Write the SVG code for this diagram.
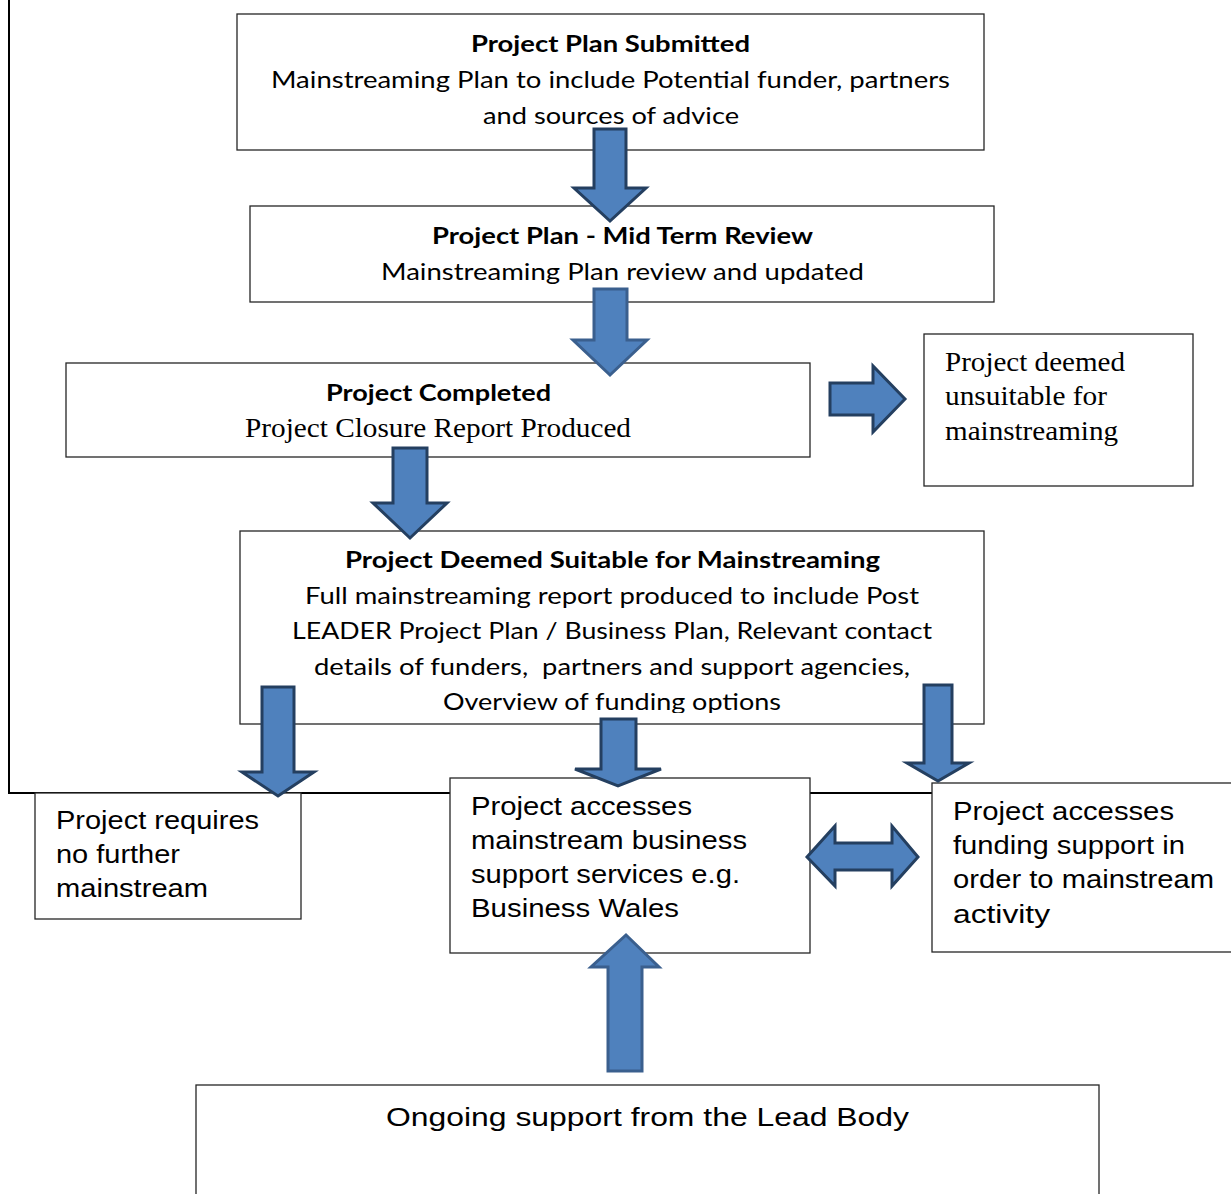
<svg xmlns="http://www.w3.org/2000/svg" width="1231" height="1194" viewBox="0 0 1231 1194">
<style>
.box{fill:#fff;stroke:#262626;stroke-width:1.3}
.frame{fill:none;stroke:#000;stroke-width:2}
.cal{font-family:Lato,"Open Sans","Liberation Sans",sans-serif;font-size:23px;fill:#000}
.b{font-weight:bold}
.tim{font-family:"Liberation Serif","Times New Roman",serif;font-size:27px;fill:#000}
.ari{font-family:"Liberation Sans",Arial,sans-serif;font-size:25px;fill:#000}
.arr{fill:#4F81BD;stroke:#243F60;stroke-width:3;stroke-linejoin:miter}
.arrl{fill:#4F81BD;stroke:#3A5F8E;stroke-width:3;stroke-linejoin:miter}
</style>
<defs>
<clipPath id="clip5"><rect x="240" y="531" width="744" height="182"/></clipPath>
</defs>
<rect width="1231" height="1194" fill="#fff"/>
<g id="frame">
<path class="frame" d="M9,0 V793 H1231"/>
</g>
<g id="node-submitted">
<rect class="box" x="237" y="14" width="747" height="136"/>
<text class="cal b" x="471" y="52" textLength="279" lengthAdjust="spacingAndGlyphs">Project Plan Submitted</text>
<text class="cal" x="271" y="88" textLength="679" lengthAdjust="spacingAndGlyphs">Mainstreaming Plan to include Potential funder, partners</text>
<text class="cal" x="483" y="124" textLength="256" lengthAdjust="spacingAndGlyphs">and sources of advice</text>
</g>
<g id="node-midterm">
<rect class="box" x="250" y="206" width="744" height="96"/>
<text class="cal b" x="432" y="244" textLength="381" lengthAdjust="spacingAndGlyphs">Project Plan - Mid Term Review</text>
<text class="cal" x="381" y="280" textLength="483" lengthAdjust="spacingAndGlyphs">Mainstreaming Plan review and updated</text>
</g>
<g id="node-completed">
<rect class="box" x="66" y="363" width="744" height="94"/>
<text class="cal b" x="326" y="401" textLength="225" lengthAdjust="spacingAndGlyphs">Project Completed</text>
<text class="tim" x="245" y="437" textLength="386" lengthAdjust="spacingAndGlyphs">Project Closure Report Produced</text>
</g>
<g id="node-unsuitable">
<rect class="box" x="924" y="334" width="269" height="152"/>
<text class="tim" x="945" y="371" textLength="180" lengthAdjust="spacingAndGlyphs">Project deemed</text>
<text class="tim" x="945" y="405" textLength="162" lengthAdjust="spacingAndGlyphs">unsuitable for</text>
<text class="tim" x="945" y="440" textLength="173" lengthAdjust="spacingAndGlyphs">mainstreaming</text>
</g>
<g id="node-suitable">
<rect class="box" x="240" y="531" width="744" height="193"/>
<g clip-path="url(#clip5)">
<text class="cal b" x="345" y="568" textLength="535" lengthAdjust="spacingAndGlyphs">Project Deemed Suitable for Mainstreaming</text>
<text class="cal" x="305" y="604" textLength="614" lengthAdjust="spacingAndGlyphs">Full mainstreaming report produced to include Post</text>
<text class="cal" x="292" y="639" textLength="640" lengthAdjust="spacingAndGlyphs">LEADER Project Plan / Business Plan, Relevant contact</text>
<text class="cal" x="314" y="675" textLength="596" lengthAdjust="spacingAndGlyphs" xml:space="preserve">details of funders,  partners and support agencies,</text>
<text class="cal" x="443" y="710" textLength="338" lengthAdjust="spacingAndGlyphs">Overview of funding options</text>
</g>
</g>
<g id="node-nofurther">
<rect class="box" x="35" y="793" width="266" height="126"/>
<text class="ari" x="56" y="829" textLength="203" lengthAdjust="spacingAndGlyphs">Project requires</text>
<text class="ari" x="56" y="863" textLength="124" lengthAdjust="spacingAndGlyphs">no further</text>
<text class="ari" x="56" y="897" textLength="152" lengthAdjust="spacingAndGlyphs">mainstream</text>
</g>
<g id="node-business">
<rect class="box" x="450" y="778" width="360" height="175"/>
<text class="ari" x="471" y="815" textLength="221" lengthAdjust="spacingAndGlyphs">Project accesses</text>
<text class="ari" x="471" y="849" textLength="276" lengthAdjust="spacingAndGlyphs">mainstream business</text>
<text class="ari" x="471" y="883" textLength="269" lengthAdjust="spacingAndGlyphs">support services e.g.</text>
<text class="ari" x="471" y="917" textLength="208" lengthAdjust="spacingAndGlyphs">Business Wales</text>
</g>
<g id="node-funding">
<rect class="box" x="932" y="783" width="310" height="169"/>
<text class="ari" x="953" y="820" textLength="221" lengthAdjust="spacingAndGlyphs">Project accesses</text>
<text class="ari" x="953" y="854" textLength="232" lengthAdjust="spacingAndGlyphs">funding support in</text>
<text class="ari" x="953" y="888" textLength="261" lengthAdjust="spacingAndGlyphs">order to mainstream</text>
<text class="ari" x="953" y="923" textLength="97" lengthAdjust="spacingAndGlyphs">activity</text>
</g>
<g id="node-leadbody">
<rect class="box" x="196" y="1085" width="903" height="130"/>
<text class="ari" x="386" y="1126" font-size="33" textLength="523" lengthAdjust="spacingAndGlyphs">Ongoing support from the Lead Body</text>
</g>
<g id="connectors">
<path class="arr" d="M594,129 H626 V188 H646 L610,221 L574,188 H594 Z"/>
<path class="arrl" d="M594,289 H627 V340 H647 L610,375 L573,340 H594 Z"/>
<path class="arr" d="M393,448 H427 V503 H447 L410,538 L373,503 H393 Z"/>
<path class="arr" d="M830,383 H873 V366 L905,399 L873,432 V415 H830 Z"/>
<path class="arr" d="M262,687 H294 V772 H314 L278,796 L242,772 H262 Z"/>
<path class="arr" d="M601,719 H636 V769 H661 L618,786 L575,769 H601 Z"/>
<path class="arr" d="M924,685 H952 V763 H969 L938,781 L907,763 H924 Z"/>
<path class="arr" d="M807,857 L835,826 V843 H892 V826 L918,857 L892,886 V870 H835 V886 Z"/>
<path class="arrl" d="M626,935 L659,967 H642 V1071 H608 V967 H591 Z"/>
</g>
</svg>
